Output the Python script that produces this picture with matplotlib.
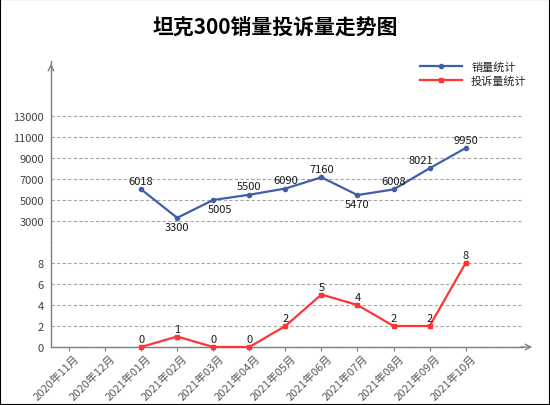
import matplotlib
matplotlib.use("Agg")
import matplotlib.pyplot as plt
from matplotlib.lines import Line2D
from matplotlib.patches import Rectangle
from matplotlib.transforms import ScaledTranslation

plt.rcParams['font.family'] = ['Noto Sans CJK SC', 'DejaVu Sans']

# ---- data ----
months = ['2020年11月', '2020年12月', '2021年01月', '2021年02月', '2021年03月', '2021年04月',
          '2021年05月', '2021年06月', '2021年07月', '2021年08月', '2021年09月', '2021年10月']
data_months = months[2:]
sales = [6018, 3300, 5005, 5500, 6090, 7160, 5470, 6008, 8021, 9950]
complaints = [0, 1, 0, 0, 2, 5, 4, 2, 2, 8]
sales_ticks = [3000, 5000, 7000, 9000, 11000, 13000]
complaint_ticks = [0, 2, 4, 6, 8]
title = '坦克300销量投诉量走势图'
sales_name = '销量统计'
complaint_name = '投诉量统计'

W, H = 550, 406
fig = plt.figure(figsize=(W / 100, H / 100), dpi=100)
fig.patch.set_facecolor('white')
fig.patches.append(Rectangle((0, 0), 1, 1, transform=fig.transFigure, fill=False,
                             edgecolor='black', linewidth=1.5))

L, R = 51, 523
top_y, mid_y, bot_y = 62, 243, 348
ax_top = fig.add_axes([L / W, 1 - mid_y / H, (R - L) / W, (mid_y - top_y) / H])
ax_bot = fig.add_axes([L / W, 1 - bot_y / H, (R - L) / W, (bot_y - mid_y) / H])

blue = '#3F5FA8'
red = '#FF3535'
axis_col = '#7F7F7F'
grid_col = '#A6A6A6'

idx = {m: i for i, m in enumerate(months)}
xs = [idx[m] for m in data_months]

for ax in (ax_top, ax_bot):
    ax.set_xlim(-0.5, 12.59)
    ax.set_facecolor('none')
    for s in ('top', 'right'):
        ax.spines[s].set_visible(False)
    ax.spines['left'].set_color(axis_col)
    ax.spines['left'].set_linewidth(1.0)
    ax.yaxis.grid(True, linestyle=(0, (3, 2)), color=grid_col, linewidth=0.8)
    ax.set_axisbelow(True)
    ax.tick_params(axis='y', length=0, pad=5, labelsize=8, labelcolor='#404040')

ax_top.set_ylim(1000, 18238)
ax_top.set_yticks(sales_ticks)
ax_top.spines['bottom'].set_visible(False)
ax_top.set_xticks([])

ax_bot.set_ylim(0, 10)
ax_bot.set_yticks(complaint_ticks)
ax_bot.spines['bottom'].set_color(axis_col)
ax_bot.spines['bottom'].set_linewidth(1.0)
ax_bot.set_xticks(range(len(months)))
ax_bot.set_xticklabels(months, rotation=45, ha='right', va='top', rotation_mode='anchor')
ax_bot.tick_params(axis='x', length=3, color=axis_col, pad=2, labelsize=8, labelcolor='#595959')
shift = ScaledTranslation(5 / 100, 2 / 100, fig.dpi_scale_trans)
for lab in ax_bot.get_xticklabels():
    lab.set_transform(lab.get_transform() + shift)

# axis arrows
ax_top.annotate('', xy=(0, 1.0), xytext=(0, 0.95), xycoords='axes fraction',
                arrowprops=dict(arrowstyle='->,head_length=0.4,head_width=0.2', color=axis_col, lw=1.0),
                annotation_clip=False)
ax_bot.annotate('', xy=((535 - L) / (R - L), 0), xytext=(0.99, 0), xycoords='axes fraction',
                arrowprops=dict(arrowstyle='->,head_length=0.4,head_width=0.2', color=axis_col, lw=1.0),
                annotation_clip=False)

# lines
ax_top.plot(xs, sales, color=blue, lw=1.6, marker='o', markersize=3, clip_on=False, zorder=3)
ax_bot.plot(xs, complaints, color=red, lw=1.6, marker='s', markersize=3.5, clip_on=False, zorder=3)

below = {3300, 5005, 5470}
xoff = {5005: 5, 8021: -6}
for x, v in zip(xs, sales):
    if v in below:
        ax_top.annotate(str(v), (x, v), xytext=(xoff.get(v, 0), -3), textcoords='offset points',
                        ha='center', va='top', fontsize=8, color='#1a1a1a')
    else:
        ax_top.annotate(str(v), (x, v), xytext=(xoff.get(v, 0), 2.5), textcoords='offset points',
                        ha='center', va='bottom', fontsize=8, color='#1a1a1a')
for x, v in zip(xs, complaints):
    ax_bot.annotate(str(v), (x, v), xytext=(0, 2), textcoords='offset points',
                    ha='center', va='bottom', fontsize=8, color='#1a1a1a', annotation_clip=False)

fig.text(0.5, 1 - 28 / H, title, ha='center', va='center', fontsize=15, fontweight='bold', color='black')

handles = [Line2D([], [], color=blue, lw=1.6, marker='o', markersize=3),
           Line2D([], [], color=red, lw=1.6, marker='s', markersize=3.5)]
fig.legend(handles, [sales_name, complaint_name], loc='upper left',
           bbox_to_anchor=(410 / W, 1 - 52 / H), frameon=False, fontsize=8,
           handlelength=3.8, handletextpad=0.8, labelspacing=0.35, labelcolor='#262626')

fig.savefig('out.png', dpi=100, facecolor='white')
